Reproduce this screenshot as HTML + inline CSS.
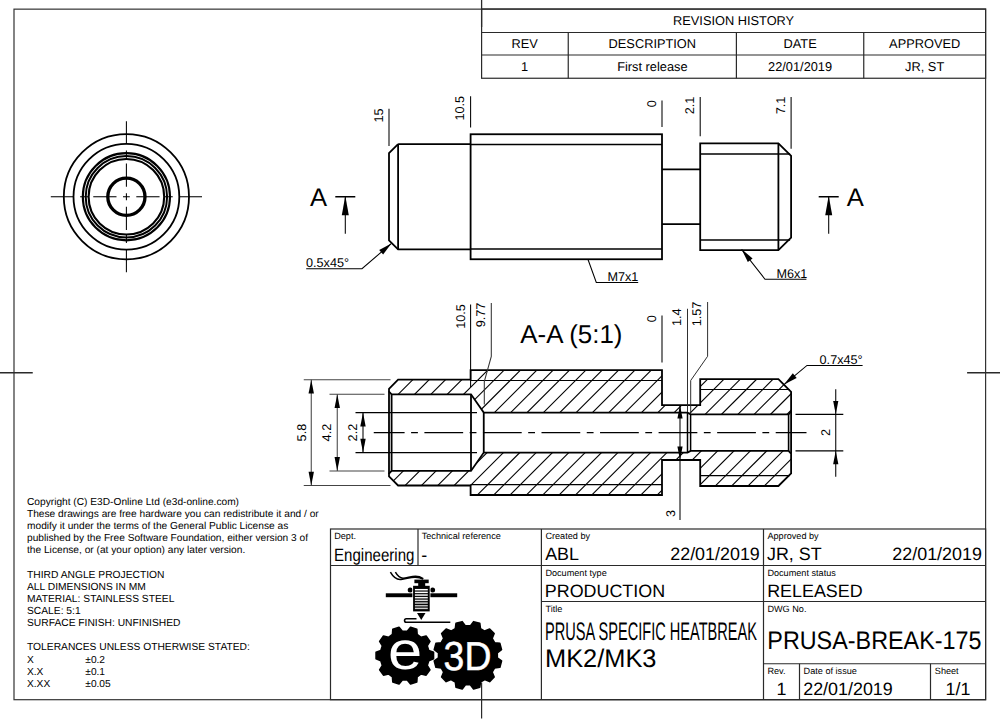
<!DOCTYPE html>
<html lang="en"><head><meta charset="utf-8"><title>PRUSA-BREAK-175</title>
<style>html,body{margin:0;padding:0;background:#fff;overflow:hidden}svg{display:block}text{font-family:"Liberation Sans",Arial,Helvetica,sans-serif;text-rendering:geometricPrecision}</style>
</head><body>
<svg width="1000" height="722" viewBox="0 0 1000 722">
<rect width="1000" height="722" fill="#fff"/>
<rect x="14.0" y="9.15" width="971.6" height="690.5500000000001" fill="none" stroke="#333" stroke-width="1.2"/>
<line x1="481.60" y1="0.00" x2="481.60" y2="27.00" stroke="#2a2a2a" stroke-width="1.3" />
<line x1="481.60" y1="682.50" x2="481.60" y2="718.60" stroke="#2a2a2a" stroke-width="1.2" />
<line x1="0.00" y1="372.75" x2="32.75" y2="372.75" stroke="#2a2a2a" stroke-width="1.3" />
<line x1="967.10" y1="372.75" x2="1000.00" y2="372.75" stroke="#2a2a2a" stroke-width="1.3" />
<rect x="481.6" y="9" width="504.0" height="69.25" fill="none" stroke="#2a2a2a" stroke-width="1.2"/>
<line x1="481.60" y1="32.50" x2="985.60" y2="32.50" stroke="#2a2a2a" stroke-width="1.2" />
<line x1="481.60" y1="55.00" x2="985.60" y2="55.00" stroke="#2a2a2a" stroke-width="1.2" />
<line x1="568.25" y1="32.50" x2="568.25" y2="78.25" stroke="#2a2a2a" stroke-width="1.2" />
<line x1="736.40" y1="32.50" x2="736.40" y2="78.25" stroke="#2a2a2a" stroke-width="1.2" />
<line x1="863.75" y1="32.50" x2="863.75" y2="78.25" stroke="#2a2a2a" stroke-width="1.2" />
<text x="733.60" y="25.00" font-size="12.8" text-anchor="middle" fill="#000" >REVISION HISTORY</text>
<text x="524.55" y="47.90" font-size="12.8" text-anchor="middle" fill="#000" >REV</text>
<text x="524.55" y="71.10" font-size="12.8" text-anchor="middle" fill="#000" >1</text>
<text x="652.33" y="47.90" font-size="12.8" text-anchor="middle" fill="#000" >DESCRIPTION</text>
<text x="652.33" y="71.10" font-size="12.8" text-anchor="middle" fill="#000" >First release</text>
<text x="800.08" y="47.90" font-size="12.8" text-anchor="middle" fill="#000" >DATE</text>
<text x="800.08" y="71.10" font-size="12.8" text-anchor="middle" fill="#000" >22/01/2019</text>
<text x="924.67" y="47.90" font-size="12.8" text-anchor="middle" fill="#000" >APPROVED</text>
<text x="924.67" y="71.10" font-size="12.8" text-anchor="middle" fill="#000" >JR, ST</text>
<rect x="330.5" y="529" width="655.1" height="170.70000000000005" fill="none" stroke="#2a2a2a" stroke-width="1.2"/>
<line x1="330.50" y1="565.50" x2="985.60" y2="565.50" stroke="#2a2a2a" stroke-width="1.2" />
<line x1="418.00" y1="529.00" x2="418.00" y2="565.50" stroke="#2a2a2a" stroke-width="1.2" />
<line x1="541.40" y1="529.00" x2="541.40" y2="699.70" stroke="#2a2a2a" stroke-width="1.2" />
<line x1="763.50" y1="529.00" x2="763.50" y2="699.70" stroke="#2a2a2a" stroke-width="1.2" />
<line x1="541.40" y1="601.50" x2="985.60" y2="601.50" stroke="#2a2a2a" stroke-width="1.2" />
<line x1="763.50" y1="663.75" x2="985.60" y2="663.75" stroke="#2a2a2a" stroke-width="1.2" />
<line x1="799.50" y1="663.75" x2="799.50" y2="699.70" stroke="#2a2a2a" stroke-width="1.2" />
<line x1="930.50" y1="663.75" x2="930.50" y2="699.70" stroke="#2a2a2a" stroke-width="1.2" />
<text x="334.20" y="539.40" font-size="9.15" text-anchor="start" fill="#000" >Dept.</text>
<text transform="translate(334.00 560.70) scale(0.842 1)" font-size="17.9" text-anchor="start" fill="#000" >Engineering</text>
<text x="421.70" y="539.40" font-size="9.15" text-anchor="start" fill="#000" >Technical reference</text>
<text x="421.30" y="561.20" font-size="17.9" text-anchor="start" fill="#000" >-</text>
<text x="545.40" y="539.40" font-size="9.15" text-anchor="start" fill="#000" >Created by</text>
<text x="545.20" y="560.20" font-size="17.9" text-anchor="start" fill="#000" >ABL</text>
<text x="759.80" y="560.20" font-size="17.9" text-anchor="end" fill="#000" >22/01/2019</text>
<text x="767.40" y="539.40" font-size="9.15" text-anchor="start" fill="#000" >Approved by</text>
<text x="767.00" y="560.20" font-size="17.9" text-anchor="start" fill="#000" >JR, ST</text>
<text x="981.90" y="560.20" font-size="17.9" text-anchor="end" fill="#000" >22/01/2019</text>
<text x="545.40" y="575.60" font-size="9.15" text-anchor="start" fill="#000" >Document type</text>
<text x="544.80" y="596.90" font-size="17.9" text-anchor="start" fill="#000" >PRODUCTION</text>
<text x="767.40" y="575.60" font-size="9.15" text-anchor="start" fill="#000" >Document status</text>
<text x="767.20" y="596.90" font-size="17.9" text-anchor="start" fill="#000" >RELEASED</text>
<text x="545.40" y="612.00" font-size="9.15" text-anchor="start" fill="#000" >Title</text>
<text transform="translate(545.10 639.90) scale(0.574 1)" font-size="25.4" text-anchor="start" fill="#000" >PRUSA SPECIFIC HEATBREAK</text>
<text x="545.00" y="667.30" font-size="25.4" text-anchor="start" fill="#000" >MK2/MK3</text>
<text x="767.40" y="612.00" font-size="9.15" text-anchor="start" fill="#000" >DWG No.</text>
<text transform="translate(767.30 649.00) scale(0.92 1)" font-size="25.4" text-anchor="start" fill="#000" >PRUSA-BREAK-175</text>
<text x="767.40" y="673.60" font-size="9.15" text-anchor="start" fill="#000" >Rev.</text>
<text x="781.50" y="694.80" font-size="17.9" text-anchor="middle" fill="#000" >1</text>
<text x="803.60" y="673.60" font-size="9.15" text-anchor="start" fill="#000" >Date of issue</text>
<text x="803.20" y="694.80" font-size="17.9" text-anchor="start" fill="#000" >22/01/2019</text>
<text x="934.80" y="673.60" font-size="9.15" text-anchor="start" fill="#000" >Sheet</text>
<text x="958.00" y="694.80" font-size="17.9" text-anchor="middle" fill="#000" >1/1</text>
<text x="27.00" y="504.60" font-size="10.18" text-anchor="start" fill="#000" >Copyright (C) E3D-Online Ltd (e3d-online.com)</text>
<text x="27.00" y="516.75" font-size="10.18" text-anchor="start" fill="#000" >These drawings are free hardware you can redistribute it and / or</text>
<text x="27.00" y="528.90" font-size="10.18" text-anchor="start" fill="#000" >modify it under the terms of the General Public License as</text>
<text x="27.00" y="541.05" font-size="10.18" text-anchor="start" fill="#000" >published by the Free Software Foundation, either version 3 of</text>
<text x="27.00" y="553.20" font-size="10.18" text-anchor="start" fill="#000" >the License, or (at your option) any later version.</text>
<text x="27.00" y="577.50" font-size="10.27" text-anchor="start" fill="#000" >THIRD ANGLE PROJECTION</text>
<text x="27.00" y="589.65" font-size="10.27" text-anchor="start" fill="#000" >ALL DIMENSIONS IN MM</text>
<text x="27.00" y="601.80" font-size="10.27" text-anchor="start" fill="#000" >MATERIAL: STAINLESS STEEL</text>
<text x="27.00" y="613.95" font-size="10.27" text-anchor="start" fill="#000" >SCALE: 5:1</text>
<text x="27.00" y="626.10" font-size="10.27" text-anchor="start" fill="#000" >SURFACE FINISH: UNFINISHED</text>
<text x="27.00" y="650.40" font-size="10.27" text-anchor="start" fill="#000" >TOLERANCES UNLESS OTHERWISE STATED:</text>
<text x="27.00" y="662.55" font-size="10.18" text-anchor="start" fill="#000" >X</text>
<text x="85.30" y="662.55" font-size="10.18" text-anchor="start" fill="#000" >±0.2</text>
<text x="27.00" y="674.70" font-size="10.18" text-anchor="start" fill="#000" >X.X</text>
<text x="85.30" y="674.70" font-size="10.18" text-anchor="start" fill="#000" >±0.1</text>
<text x="27.00" y="686.85" font-size="10.18" text-anchor="start" fill="#000" >X.XX</text>
<text x="85.30" y="686.85" font-size="10.18" text-anchor="start" fill="#000" >±0.05</text>
<circle cx="126.4" cy="196.75" r="62.6" fill="none" stroke="#000" stroke-width="1.8"/>
<circle cx="126.4" cy="196.75" r="52.9" fill="none" stroke="#000" stroke-width="1.8"/>
<circle cx="126.4" cy="196.75" r="43.6" fill="none" stroke="#000" stroke-width="2.1"/>
<circle cx="126.4" cy="196.75" r="40.7" fill="none" stroke="#000" stroke-width="2.0"/>
<circle cx="126.4" cy="196.75" r="37.8" fill="none" stroke="#000" stroke-width="2.1"/>
<circle cx="126.4" cy="196.75" r="18.6" fill="none" stroke="#000" stroke-width="3.3"/>
<line x1="50.80" y1="196.75" x2="73.45" y2="196.75" stroke="#000" stroke-width="1.05" />
<line x1="126.40" y1="121.15" x2="126.40" y2="143.80" stroke="#000" stroke-width="1.05" />
<line x1="80.10" y1="196.75" x2="88.60" y2="196.75" stroke="#000" stroke-width="1.05" />
<line x1="126.40" y1="150.45" x2="126.40" y2="158.95" stroke="#000" stroke-width="1.05" />
<line x1="93.25" y1="196.75" x2="116.50" y2="196.75" stroke="#000" stroke-width="1.05" />
<line x1="126.40" y1="163.60" x2="126.40" y2="186.85" stroke="#000" stroke-width="1.05" />
<line x1="123.00" y1="196.75" x2="129.80" y2="196.75" stroke="#000" stroke-width="1.05" />
<line x1="126.40" y1="193.35" x2="126.40" y2="200.15" stroke="#000" stroke-width="1.05" />
<line x1="136.30" y1="196.75" x2="159.55" y2="196.75" stroke="#000" stroke-width="1.05" />
<line x1="126.40" y1="206.65" x2="126.40" y2="229.90" stroke="#000" stroke-width="1.05" />
<line x1="164.20" y1="196.75" x2="172.70" y2="196.75" stroke="#000" stroke-width="1.05" />
<line x1="126.40" y1="234.55" x2="126.40" y2="243.05" stroke="#000" stroke-width="1.05" />
<line x1="179.35" y1="196.75" x2="202.00" y2="196.75" stroke="#000" stroke-width="1.05" />
<line x1="126.40" y1="249.70" x2="126.40" y2="272.35" stroke="#000" stroke-width="1.05" />
<path d="M398.10 144.05 L389.00 153.15 L389.00 240.35 L398.10 249.45 L470.60 249.45" fill="none" stroke="#000" stroke-width="1.8" stroke-linejoin="miter" />
<path d="M398.10 144.05 L470.60 144.05" fill="none" stroke="#000" stroke-width="1.8" stroke-linejoin="miter" />
<line x1="398.10" y1="144.05" x2="398.10" y2="249.45" stroke="#000" stroke-width="1.8" />
<rect x="470.6" y="134.25" width="191.39999999999998" height="125.0" fill="none" stroke="#000" stroke-width="1.8"/>
<line x1="470.60" y1="144.50" x2="662.00" y2="144.50" stroke="#000" stroke-width="1.35" />
<line x1="470.60" y1="249.00" x2="662.00" y2="249.00" stroke="#000" stroke-width="1.35" />
<line x1="662.00" y1="169.35" x2="700.20" y2="169.35" stroke="#000" stroke-width="1.8" />
<line x1="662.00" y1="224.15" x2="700.20" y2="224.15" stroke="#000" stroke-width="1.8" />
<path d="M700.20 143.45 L778.40 143.45 L791.10 155.85 L791.10 237.65 L778.40 250.05 L700.20 250.05 Z" fill="none" stroke="#000" stroke-width="1.8" stroke-linejoin="miter" />
<line x1="778.40" y1="143.45" x2="778.40" y2="250.05" stroke="#000" stroke-width="1.8" />
<line x1="700.20" y1="154.00" x2="790.10" y2="154.00" stroke="#000" stroke-width="1.35" />
<line x1="700.20" y1="240.00" x2="790.10" y2="240.00" stroke="#000" stroke-width="1.35" />
<line x1="389.00" y1="108.75" x2="389.00" y2="146.00" stroke="#000" stroke-width="1.05" />
<text transform="translate(382.80 108.45) rotate(-90)" font-size="12.65" text-anchor="end" fill="#000" >15</text>
<line x1="470.60" y1="96.25" x2="470.60" y2="127.50" stroke="#000" stroke-width="1.05" />
<text transform="translate(464.40 95.95) rotate(-90)" font-size="12.65" text-anchor="end" fill="#000" >10.5</text>
<line x1="662.00" y1="100.50" x2="662.00" y2="127.00" stroke="#000" stroke-width="1.05" />
<text transform="translate(655.80 100.20) rotate(-90)" font-size="12.65" text-anchor="end" fill="#000" >0</text>
<line x1="700.20" y1="97.00" x2="700.20" y2="136.25" stroke="#000" stroke-width="1.05" />
<text transform="translate(694.00 96.70) rotate(-90)" font-size="12.65" text-anchor="end" fill="#000" >2.1</text>
<line x1="791.10" y1="97.00" x2="791.10" y2="148.75" stroke="#000" stroke-width="1.05" />
<text transform="translate(784.90 96.70) rotate(-90)" font-size="12.65" text-anchor="end" fill="#000" >7.1</text>
<line x1="335.30" y1="196.75" x2="355.30" y2="196.75" stroke="#000" stroke-width="1.5" />
<line x1="345.30" y1="196.75" x2="345.30" y2="233.75" stroke="#000" stroke-width="1.05" />
<path d="M345.30 195.80 L348.80 215.30 L341.80 215.30 Z" fill="#000"/>
<text x="310.00" y="206.00" font-size="25.6" text-anchor="start" fill="#000" >A</text>
<line x1="818.70" y1="196.75" x2="838.70" y2="196.75" stroke="#000" stroke-width="1.5" />
<line x1="828.70" y1="196.75" x2="828.70" y2="233.75" stroke="#000" stroke-width="1.05" />
<path d="M828.70 195.80 L832.20 215.30 L825.20 215.30 Z" fill="#000"/>
<text x="846.80" y="206.00" font-size="25.6" text-anchor="start" fill="#000" >A</text>
<path d="M306.20 268.70 L362.00 268.70 L391.20 243.60" fill="none" stroke="#000" stroke-width="1.05" stroke-linejoin="miter" />
<path d="M391.40 243.40 L383.12 254.48 L379.21 249.93 Z" fill="#000"/>
<text x="306.00" y="267.20" font-size="12.65" text-anchor="start" fill="#000" >0.5x45°</text>
<path d="M588.00 259.50 L596.30 282.50 L638.20 282.50" fill="none" stroke="#000" stroke-width="1.05" stroke-linejoin="miter" />
<text x="607.40" y="281.00" font-size="12.65" text-anchor="start" fill="#000" >M7x1</text>
<path d="M741.60 249.40 L765.00 279.20 L806.40 279.20" fill="none" stroke="#000" stroke-width="1.05" stroke-linejoin="miter" />
<path d="M741.60 249.20 L752.58 258.39 L747.84 262.08 Z" fill="#000"/>
<text x="776.40" y="277.70" font-size="12.65" text-anchor="start" fill="#000" >M6x1</text>
<defs><clipPath id="sec">
<path d="M389.00 388.80 L398.10 379.70 L470.60 379.70 L470.60 370.20 L662.00 370.20 L662.00 405.20 L700.20 405.20 L700.20 379.20 L778.40 379.20 L791.10 391.90 L791.10 411.45 L788.60 414.35 L690.60 414.35 L687.50 412.60 L483.75 412.60 L471.00 394.30 L391.60 394.30 L389.00 391.50 Z"/>
<path d="M389.00 476.40 L398.10 485.50 L470.60 485.50 L470.60 495.00 L662.00 495.00 L662.00 460.00 L700.20 460.00 L700.20 486.00 L778.40 486.00 L791.10 473.30 L791.10 453.75 L788.60 450.85 L690.60 450.85 L687.50 452.60 L483.75 452.60 L471.00 470.90 L391.60 470.90 L389.00 473.70 Z"/>
</clipPath></defs>
<g clip-path="url(#sec)" stroke="#000" stroke-width="1.1">
<line x1="383.45" y1="360" x2="238.45" y2="505"/>
<line x1="399.80" y1="360" x2="254.80" y2="505"/>
<line x1="416.15" y1="360" x2="271.15" y2="505"/>
<line x1="432.50" y1="360" x2="287.50" y2="505"/>
<line x1="448.85" y1="360" x2="303.85" y2="505"/>
<line x1="465.20" y1="360" x2="320.20" y2="505"/>
<line x1="481.55" y1="360" x2="336.55" y2="505"/>
<line x1="497.90" y1="360" x2="352.90" y2="505"/>
<line x1="514.25" y1="360" x2="369.25" y2="505"/>
<line x1="530.60" y1="360" x2="385.60" y2="505"/>
<line x1="546.95" y1="360" x2="401.95" y2="505"/>
<line x1="563.30" y1="360" x2="418.30" y2="505"/>
<line x1="579.65" y1="360" x2="434.65" y2="505"/>
<line x1="596.00" y1="360" x2="451.00" y2="505"/>
<line x1="612.35" y1="360" x2="467.35" y2="505"/>
<line x1="628.70" y1="360" x2="483.70" y2="505"/>
<line x1="645.05" y1="360" x2="500.05" y2="505"/>
<line x1="661.40" y1="360" x2="516.40" y2="505"/>
<line x1="677.75" y1="360" x2="532.75" y2="505"/>
<line x1="694.10" y1="360" x2="549.10" y2="505"/>
<line x1="710.45" y1="360" x2="565.45" y2="505"/>
<line x1="726.80" y1="360" x2="581.80" y2="505"/>
<line x1="743.15" y1="360" x2="598.15" y2="505"/>
<line x1="759.50" y1="360" x2="614.50" y2="505"/>
<line x1="775.85" y1="360" x2="630.85" y2="505"/>
<line x1="792.20" y1="360" x2="647.20" y2="505"/>
<line x1="808.55" y1="360" x2="663.55" y2="505"/>
<line x1="824.90" y1="360" x2="679.90" y2="505"/>
<line x1="841.25" y1="360" x2="696.25" y2="505"/>
<line x1="857.60" y1="360" x2="712.60" y2="505"/>
<line x1="873.95" y1="360" x2="728.95" y2="505"/>
<line x1="890.30" y1="360" x2="745.30" y2="505"/>
<line x1="906.65" y1="360" x2="761.65" y2="505"/>
<line x1="923.00" y1="360" x2="778.00" y2="505"/>
<line x1="939.35" y1="360" x2="794.35" y2="505"/>
</g>
<path d="M389.00 388.80 L398.10 379.70 L470.60 379.70 L470.60 370.20 L662.00 370.20 L662.00 405.20 L700.20 405.20 L700.20 379.20 L778.40 379.20 L791.10 391.90 L791.10 411.45 L788.60 414.35 L690.60 414.35 L687.50 412.60 L483.75 412.60 L471.00 394.30 L391.60 394.30 L389.00 391.50 Z" fill="none" stroke="#000" stroke-width="1.8" stroke-linejoin="miter" />
<path d="M389.00 476.40 L398.10 485.50 L470.60 485.50 L470.60 495.00 L662.00 495.00 L662.00 460.00 L700.20 460.00 L700.20 486.00 L778.40 486.00 L791.10 473.30 L791.10 453.75 L788.60 450.85 L690.60 450.85 L687.50 452.60 L483.75 452.60 L471.00 470.90 L391.60 470.90 L389.00 473.70 Z" fill="none" stroke="#000" stroke-width="1.8" stroke-linejoin="miter" />
<line x1="389.00" y1="391.30" x2="389.00" y2="473.90" stroke="#000" stroke-width="1.8" />
<line x1="391.60" y1="394.30" x2="391.60" y2="470.90" stroke="#000" stroke-width="1.8" />
<line x1="471.00" y1="394.30" x2="471.00" y2="470.90" stroke="#000" stroke-width="1.8" />
<line x1="483.75" y1="412.60" x2="483.75" y2="452.60" stroke="#000" stroke-width="1.8" />
<line x1="687.50" y1="412.60" x2="687.50" y2="452.60" stroke="#000" stroke-width="1.5" />
<line x1="690.60" y1="414.35" x2="690.60" y2="450.85" stroke="#000" stroke-width="1.5" />
<line x1="788.60" y1="414.35" x2="788.60" y2="450.85" stroke="#000" stroke-width="1.6" />
<line x1="791.10" y1="411.45" x2="791.10" y2="453.75" stroke="#000" stroke-width="1.8" />
<line x1="470.60" y1="380.50" x2="662.00" y2="380.50" stroke="#000" stroke-width="1.2" />
<line x1="700.20" y1="389.50" x2="789.60" y2="389.50" stroke="#000" stroke-width="1.2" />
<line x1="470.60" y1="484.70" x2="662.00" y2="484.70" stroke="#000" stroke-width="1.2" />
<line x1="700.20" y1="475.70" x2="789.60" y2="475.70" stroke="#000" stroke-width="1.2" />
<line x1="373.75" y1="432.6" x2="806.5" y2="432.6" stroke="#000" stroke-width="1.05" stroke-dasharray="38.75 6.5 6.8 6.5" stroke-dashoffset="7.9"/>
<line x1="470.60" y1="304.50" x2="470.60" y2="387.00" stroke="#000" stroke-width="1.05" />
<text transform="translate(464.80 304.20) rotate(-90)" font-size="12.65" text-anchor="end" fill="#000" >10.5</text>
<path d="M491.30 303.00 L491.30 356.50 L484.30 381.50 L484.30 404.50" fill="none" stroke="#333" stroke-width="1.05" stroke-linejoin="miter" />
<text transform="translate(485.20 302.70) rotate(-90)" font-size="12.65" text-anchor="end" fill="#000" >9.77</text>
<line x1="662.00" y1="315.50" x2="662.00" y2="362.50" stroke="#000" stroke-width="1.05" />
<text transform="translate(655.80 315.20) rotate(-90)" font-size="12.65" text-anchor="end" fill="#000" >0</text>
<line x1="687.50" y1="308.75" x2="687.50" y2="412.00" stroke="#222" stroke-width="0.9450000000000001" />
<text transform="translate(681.30 308.50) rotate(-90)" font-size="12.65" text-anchor="end" fill="#000" >1.4</text>
<path d="M707.60 302.00 L707.60 356.30 L690.70 380.50 L690.70 413.00" fill="none" stroke="#222" stroke-width="0.9450000000000001" stroke-linejoin="miter" />
<text transform="translate(701.40 301.70) rotate(-90)" font-size="12.65" text-anchor="end" fill="#000" >1.57</text>
<text x="520.30" y="342.60" font-size="25.9" text-anchor="start" fill="#000" >A-A (5:1)</text>
<line x1="303.75" y1="379.70" x2="390.50" y2="379.70" stroke="#444" stroke-width="1.05" />
<line x1="303.75" y1="485.50" x2="390.50" y2="485.50" stroke="#444" stroke-width="1.05" />
<line x1="311.25" y1="379.70" x2="311.25" y2="485.50" stroke="#444" stroke-width="1.05" />
<path d="M311.25 379.70 L313.95 393.50 L308.55 393.50 Z" fill="#000"/>
<path d="M311.25 485.50 L308.55 471.70 L313.95 471.70 Z" fill="#000"/>
<text transform="translate(306.30 432.60) rotate(-90)" font-size="12.65" text-anchor="middle" fill="#000" >5.8</text>
<line x1="329.50" y1="394.30" x2="384.50" y2="394.30" stroke="#444" stroke-width="1.05" />
<line x1="329.50" y1="470.90" x2="384.50" y2="470.90" stroke="#444" stroke-width="1.05" />
<line x1="337.25" y1="394.30" x2="337.25" y2="470.90" stroke="#444" stroke-width="1.05" />
<path d="M337.25 394.30 L339.95 408.10 L334.55 408.10 Z" fill="#000"/>
<path d="M337.25 470.90 L334.55 457.10 L339.95 457.10 Z" fill="#000"/>
<text transform="translate(331.40 432.60) rotate(-90)" font-size="12.65" text-anchor="middle" fill="#000" >4.2</text>
<line x1="355.50" y1="412.60" x2="477.00" y2="412.60" stroke="#000" stroke-width="1.05" />
<line x1="355.50" y1="452.60" x2="477.00" y2="452.60" stroke="#000" stroke-width="1.05" />
<line x1="363.00" y1="412.60" x2="363.00" y2="452.60" stroke="#000" stroke-width="1.05" />
<path d="M363.00 412.60 L365.70 426.40 L360.30 426.40 Z" fill="#000"/>
<path d="M363.00 452.60 L360.30 438.80 L365.70 438.80 Z" fill="#000"/>
<text transform="translate(357.00 432.60) rotate(-90)" font-size="12.65" text-anchor="middle" fill="#000" >2.2</text>
<line x1="795.50" y1="414.35" x2="843.30" y2="414.35" stroke="#000" stroke-width="1.05" />
<line x1="795.50" y1="450.85" x2="843.30" y2="450.85" stroke="#000" stroke-width="1.05" />
<line x1="835.75" y1="389.25" x2="835.75" y2="476.75" stroke="#000" stroke-width="1.05" />
<path d="M835.75 414.35 L833.15 401.05 L838.35 401.05 Z" fill="#000"/>
<path d="M835.75 450.85 L838.35 464.15 L833.15 464.15 Z" fill="#000"/>
<text transform="translate(829.80 432.60) rotate(-90)" font-size="12.65" text-anchor="middle" fill="#000" >2</text>
<line x1="680.00" y1="405.20" x2="680.00" y2="520.00" stroke="#000" stroke-width="1.05" />
<path d="M680.00 405.20 L682.60 418.60 L677.40 418.60 Z" fill="#000"/>
<path d="M680.00 460.00 L677.40 446.60 L682.60 446.60 Z" fill="#000"/>
<text transform="translate(675.30 517.00) rotate(-90)" font-size="12.65" text-anchor="start" fill="#000" >3</text>
<path d="M784.00 384.60 L807.00 365.40 L862.60 365.40" fill="none" stroke="#000" stroke-width="1.05" stroke-linejoin="miter" />
<path d="M784.00 384.60 L792.82 373.33 L796.67 377.93 Z" fill="#000"/>
<text x="819.60" y="364.00" font-size="12.65" text-anchor="start" fill="#000" >0.7x45°</text>
<path d="M428.74 650.41 L433.52 652.34 L433.52 658.86 L428.74 660.79 L427.22 665.47 L429.95 669.84 L426.11 675.12 L421.12 673.88 L417.14 676.77 L416.78 681.90 L410.57 683.92 L407.26 679.98 L402.34 679.98 L399.03 683.92 L392.82 681.90 L392.46 676.77 L388.48 673.88 L383.49 675.12 L379.65 669.84 L382.38 665.47 L380.86 660.79 L376.08 658.86 L376.08 652.34 L380.86 650.41 L382.38 645.73 L379.65 641.36 L383.49 636.08 L388.48 637.32 L392.46 634.43 L392.82 629.30 L399.03 627.28 L402.34 631.22 L407.26 631.22 L410.57 627.28 L416.78 629.30 L417.14 634.43 L421.12 637.32 L426.11 636.08 L429.95 641.36 L427.22 645.73 Z" fill="#000" stroke="#000" stroke-width="1.6" stroke-linejoin="round"/>
<path d="M497.30 657.77 L501.52 660.99 L499.86 667.19 L494.59 667.86 L492.12 672.14 L494.17 677.04 L489.64 681.57 L484.74 679.52 L480.46 681.99 L479.79 687.26 L473.59 688.92 L470.37 684.70 L465.43 684.70 L462.21 688.92 L456.01 687.26 L455.34 681.99 L451.06 679.52 L446.16 681.57 L441.63 677.04 L443.68 672.14 L441.21 667.86 L435.94 667.19 L434.28 660.99 L438.50 657.77 L438.50 652.83 L434.28 649.61 L435.94 643.41 L441.21 642.74 L443.68 638.46 L441.63 633.56 L446.16 629.03 L451.06 631.08 L455.34 628.61 L456.01 623.34 L462.21 621.68 L465.43 625.90 L470.37 625.90 L473.59 621.68 L479.79 623.34 L480.46 628.61 L484.74 631.08 L489.64 629.03 L494.17 633.56 L492.12 638.46 L494.59 642.74 L499.86 643.41 L501.52 649.61 L497.30 652.83 Z" fill="#000" stroke="#000" stroke-width="1.6" stroke-linejoin="round"/>
<text transform="translate(405.0 669.3) scale(1.15 1)" font-size="53.4" text-anchor="middle" fill="#fff">e</text>
<text transform="translate(443.6 669.5) scale(0.925 1)" font-size="40.4" fill="#fff" stroke="#fff" stroke-width="0.5">3D</text>
<g fill="#000" stroke="none">
<rect x="385.8" y="593.3" width="71.4" height="3.9"/>
<circle cx="410.2" cy="590.0" r="2.5"/><circle cx="432.6" cy="590.0" r="2.5"/>
<rect x="414.4" y="579.6" width="14.3" height="3.6"/>
<rect x="413.1" y="585.8" width="16.6" height="25.6" stroke="#fff" stroke-width="1.4" paint-order="stroke"/>
<rect x="418.2" y="582.5" width="7.0" height="4"/>
<path d="M417.0 612.9 L425.5 612.9 L421.25 620.1 Z"/>
</g>
<rect x="414.9" y="588.95" width="12.9" height="1.5" fill="#fff"/>
<rect x="414.9" y="591.62" width="12.9" height="1.5" fill="#fff"/>
<rect x="414.9" y="594.29" width="12.9" height="1.5" fill="#f4f4f4"/>
<rect x="414.9" y="596.96" width="12.9" height="1.5" fill="#eee"/>
<rect x="414.9" y="599.63" width="12.9" height="1.5" fill="#ddd"/>
<rect x="414.9" y="602.30" width="12.9" height="1.5" fill="#c8c8c8"/>
<rect x="414.9" y="604.97" width="12.9" height="1.5" fill="#bbb"/>
<rect x="414.9" y="607.64" width="12.9" height="1.5" fill="#ccc"/>
<path d="M390.4 572.2 C393.5 577.6 396.5 579.9 401 579.4 C406 578.9 410 577.3 415 577.2 C418.5 577.2 421 577.9 423.2 579.2" fill="none" stroke="#000" stroke-width="1.5"/>
<path d="M395.4 572.2 C397.5 575.8 399.5 578.3 403 578.3 C407 578.2 411 576.3 415.5 576.3 C418.8 576.3 421 577.2 423.2 578.6" fill="none" stroke="#000" stroke-width="1.5"/>
<path d="M416.5 618.7 L406.3 618.7 A1.75 1.75 0 0 0 406.3 622.2 L450.3 622.2" fill="none" stroke="#000" stroke-width="1.6"/>
</svg></body></html>
